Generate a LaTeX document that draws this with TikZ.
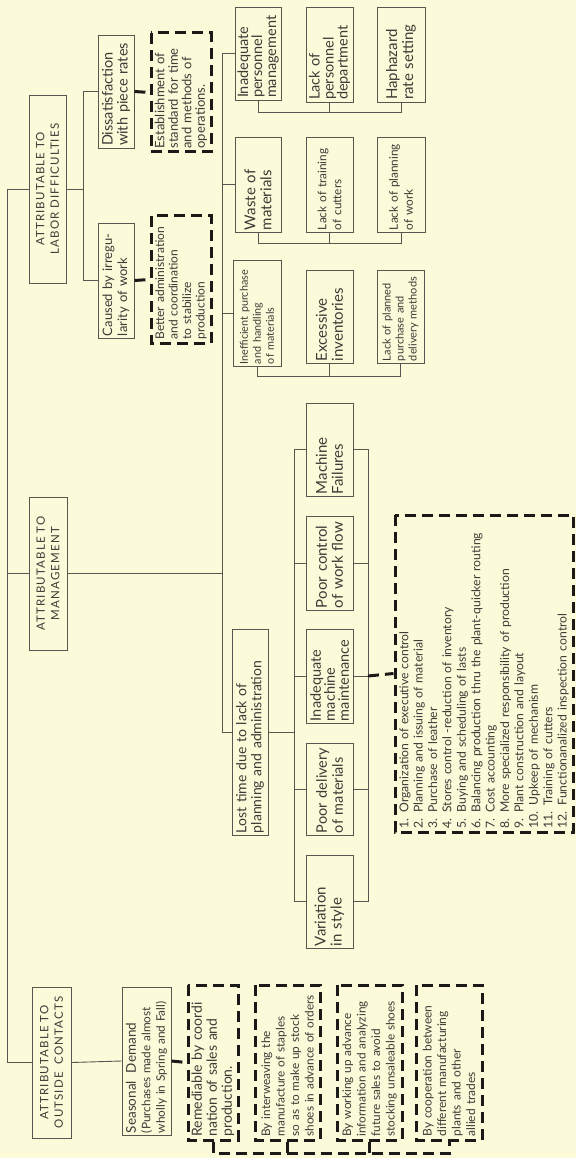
\documentclass[tikz,border=0pt]{standalone}
\usepackage{fontspec}
\setmainfont{Lato}
\newfontfamily\capsfont[LetterSpace=10]{Lato}
\definecolor{paperBg}{HTML}{FBFAD9}
\definecolor{lineInk}{HTML}{5A5550}
\definecolor{dashInk}{HTML}{1C1A18}
\definecolor{textInk}{HTML}{3E3A36}
\newcommand{\hugetext}{\fontsize{15}{16}\selectfont}
\newcommand{\bigtext}{\fontsize{14.5}{14}\selectfont}
\newcommand{\midtext}{\fontsize{12}{14}\selectfont}
\newcommand{\smalltext}{\fontsize{10.8}{13}\selectfont}
\newcommand{\listtext}{\fontsize{12.2}{14.4}\selectfont}
\newcommand{\captext}{\capsfont\fontsize{11.5}{14.5}\selectfont}

\begin{document}
\begin{tikzpicture}[
  x=1pt, y=-1pt,
  font=\midtext,
  textbox/.style={rectangle, rotate=90, draw=lineInk, line width=0.9pt,
                  align=left, inner xsep=2pt, inner ysep=1pt, text=textInk},
  remedy/.style={textbox, draw=dashInk, line width=3pt, inner xsep=3.5pt,
                 dash pattern=on 11pt off 6pt},
  catbox/.style={textbox, align=center, font=\captext},
  link/.style={draw=lineInk, line width=0.9pt},
  remlink/.style={draw=dashInk, line width=3pt, dash pattern=on 11pt off 6pt},
  dims/.style 2 args={minimum height=#1, text width=#2}
]

% paper and frame
\fill[paperBg] (0,0) rectangle (576,1158);
\useasboundingbox (0,0) rectangle (576,1158);

% ===== The three headings ===========================================
\node[catbox, dims={37pt}{184pt}] (labor) at (47.5,189)
  {ATTRIBUTABLE TO\\LABOR DIFFICULTIES};
\node[catbox, dims={38pt}{149pt}] (mgmt) at (48,573.5)
  {ATTRIBUTABLE TO\\MANAGEMENT};
\node[catbox, dims={39pt}{147pt}] (outside) at (51.5,1062.5)
  {ATTRIBUTABLE TO\\OUTSIDE\ \ CONTACTS};

% ===== Labor difficulties ===========================================
\node[textbox, dims={36pt}{109pt}, font=\fontsize{14.5}{15}\selectfont] (dissat) at (116,91.5)
  {Dissatisfaction\\with piece rates};
\node[textbox, dims={36pt}{111pt}, font=\fontsize{13}{15}\selectfont] (caused) at (116,280.5)
  {Caused by irregu-\\larity of work};
\node[remedy, dims={60pt}{112pt}, font=\fontsize{13}{13.5}\selectfont] (establish) at (181,92.5)
  {Establishment of\\standard for time\\and methods of\\operations.};
\node[remedy, dims={60pt}{120pt}, font=\fontsize{12}{13.5}\selectfont] (betteradm) at (181,279.5)
  {Better administration\\and coordination\\to stabilize\\production};

% ===== Management: first column =====================================
\node[textbox, dims={46pt}{89pt}, font=\bigtext] (persmgmt) at (258,53.5)
  {Inadequate\\personnel\\management};
\node[textbox, dims={46pt}{91pt}, font=\hugetext] (waste) at (258,184.5)
  {Waste of\\materials};
\node[textbox, dims={48pt}{102pt}, font=\smalltext] (ineff) at (257,313)
  {Inefficient purchase\\and handling\\of materials};
\node[textbox, dims={36pt}{202pt}, font=\fontsize{14}{15}\selectfont] (losttime) at (250,732)
  {Lost time due to lack of\\planning and administration};

% ===== Management: rows to the right ================================
\node[textbox, dims={47pt}{91pt}, font=\bigtext] (perdept) at (329.5,54.5)
  {Lack of\\personnel\\department};
\node[textbox, dims={48pt}{91pt}, font=\hugetext] (haphaz) at (401,54.5)
  {Haphazard\\rate setting};
\node[textbox, dims={47pt}{91pt}, font=\fontsize{11.8}{15}\selectfont] (training) at (329.5,184.5)
  {Lack of training\\of cutters};
\node[textbox, dims={48pt}{91pt}, font=\fontsize{11.8}{15}\selectfont] (planwork) at (401,184.5)
  {Lack of planning\\of work};
\node[textbox, dims={47pt}{89pt}, font=\hugetext] (excess) at (329.5,316.5)
  {Excessive\\inventories};
\node[textbox, dims={47pt}{89pt}, font=\fontsize{11}{13}\selectfont] (plannedpur) at (400.5,316.5)
  {Lack of planned\\purchase and\\delivery methods};

% ===== Lost time: five causes =======================================
\node[textbox, dims={47pt}{89pt}, font=\hugetext] (machfail) at (329.5,449.5)
  {Machine\\Failures};
\node[textbox, dims={47pt}{90pt}, font=\hugetext] (workflow) at (329.5,563)
  {Poor control\\of work flow};
\node[textbox, dims={47pt}{90pt}, font=\bigtext] (machmaint) at (329.5,676)
  {Inadequate\\machine\\maintenance};
\node[textbox, dims={47pt}{88pt}, font=\fontsize{14.5}{16}\selectfont] (poordel) at (329.5,789)
  {Poor delivery\\of materials};
\node[textbox, dims={47pt}{89pt}, font=\hugetext] (variation) at (329.5,901.5)
  {Variation\\in style};

\node[remedy, dims={178pt}{310pt}, font=\listtext] (plan12) at (484,673.5)
  {1. Organization of executive control\\
   2. Planning and issuing of material\\
   3. Purchase of leather\\
   4. Stores control -reduction of inventory\\
   5. Buying and scheduling of lasts\\
   6. Balancing production thru the plant-quicker routing\\
   7. Cost accounting\\
   8. More specialized responsibility of production\\
   9. Plant construction and layout\\
   10. Upkeep of mechanism\\
   11. Training of cutters\\
   12. Functionanalized inspection control};

% ===== Outside contacts =============================================
\node[textbox, dims={49pt}{144pt}, font=\fontsize{11.8}{14.5}\selectfont] (seasonal) at (146.5,1061)
  {{\fontsize{13.5}{14.5}\selectfont Seasonal\ \ Demand}\\(Purchases made almost\\wholly in Spring and Fall)};
\node[remedy, dims={50pt}{148pt}, font=\fontsize{14}{15}\selectfont] (rem1) at (213,1062.5)
  {Remediable by coordi\\nation of sales and\\production.};
\node[remedy, dims={65pt}{148pt}, font=\fontsize{11.8}{14.5}\selectfont] (rem2) at (287.5,1062.5)
  {By interweaving the\\manufacture of staples\\so as to make up stock\\shoes in advance of orders};
\node[remedy, dims={65pt}{148pt}, font=\fontsize{11.8}{14.5}\selectfont] (rem3) at (369.5,1062.5)
  {By working up advance\\information and analyzing\\future sales to avoid\\stocking unsaleable shoes};
\node[remedy, dims={66pt}{148pt}, font=\fontsize{12}{14.5}\selectfont] (rem4) at (449,1062.5)
  {By cooperation between\\different manufacturing\\plants and other\\allied trades};

% ===== Connectors ===================================================
\coordinate (trunk) at (7,0);
\coordinate (laborBus) at (83,0);
\coordinate (mgmtBus) at (222,0);
\coordinate (leftBus) at (294,0);
\coordinate (rightBus) at (368,0);
\coordinate (rowA) at (0,112);
\coordinate (rowB) at (0,243);
\coordinate (rowC) at (0,376);
\coordinate (remLine) at (0,1153);

% trunk to the three headings
\draw[link] (labor.north) -- (labor.north -| trunk) -- (outside.north -| trunk) -- (outside.north);
\draw[link] (mgmt.north) -- (mgmt.north -| trunk);

% labor bus
\draw[link] (labor.south) -- (labor.south -| laborBus);
\draw[link] (dissat.north) -- (dissat.north -| laborBus) -- (caused.north -| laborBus) -- (caused.north);

% management bus
\draw[link] (mgmt.south) -- (mgmt.south -| mgmtBus);
\draw[link] (persmgmt.north) -- (persmgmt.north -| mgmtBus) -- (losttime.north -| mgmtBus) -- (losttime.north);
\draw[link] (waste.north) -- (waste.north -| mgmtBus);
\draw[link] (ineff.north) -- (ineff.north -| mgmtBus);

% rows
\draw[link] (persmgmt.west) -- (persmgmt.west |- rowA) -| (haphaz.west);
\draw[link] (perdept.west) -- (perdept.west |- rowA);
\draw[link] (waste.west) -- (waste.west |- rowB) -| (planwork.west);
\draw[link] (training.west) -- (training.west |- rowB);
\draw[link] (ineff.west) -- (ineff.west |- rowC) -| (plannedpur.west);
\draw[link] (excess.west) -- (excess.west |- rowC);

% lost time causes
\draw[link] (losttime.south) -- (losttime.south -| leftBus);
\draw[link] (machfail.north) -- (machfail.north -| leftBus) -- (variation.north -| leftBus) -- (variation.north);
\draw[link] (machfail.south) -- (machfail.south -| rightBus) -- (variation.south -| rightBus) -- (variation.south);
\draw[link] (workflow.north) -- (workflow.north -| leftBus);
\draw[link] (workflow.south) -- (workflow.south -| rightBus);
\draw[link] (machmaint.north) -- (machmaint.north -| leftBus);
\draw[link] (machmaint.south) -- (machmaint.south -| rightBus);
\draw[link] (poordel.north) -- (poordel.north -| leftBus);
\draw[link] (poordel.south) -- (poordel.south -| rightBus);

% outside contacts
\draw[link] (outside.south) -- (seasonal.north);

% remedies (heavy dashed)
\draw[remlink] (dissat.south) -- (establish.north);
\draw[remlink] (caused.south) -- (betteradm.north);
\draw[remlink] (machmaint.south -| rightBus) -- (plan12.north);
\draw[remlink] (seasonal.south) -- (rem1.north);
\draw[remlink] (rem1.west) -- (rem1.west |- remLine) -- (rem4.west |- remLine) -- (rem4.west);
\draw[remlink] (rem2.west) -- (rem2.west |- remLine);
\draw[remlink] (rem3.west) -- (rem3.west |- remLine);

\end{tikzpicture}
\end{document}
